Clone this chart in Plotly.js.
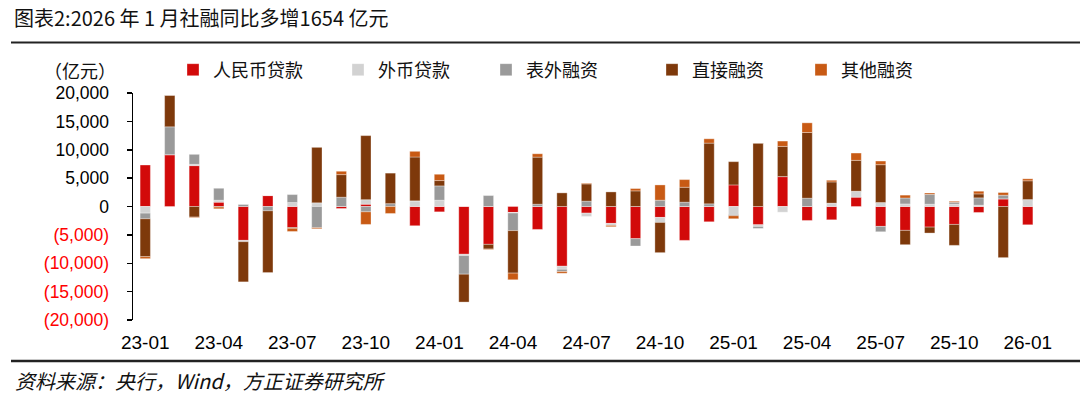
<!DOCTYPE html>
<html>
<head>
<meta charset="utf-8">
<script src="https://cdn.plot.ly/plotly-3.0.1.min.js"></script>
<style>
html,body{margin:0;padding:0;background:#ffffff;}
#chart{width:1080px;height:398px;}
</style>
</head>
<body>
<div id="chart"></div>
<script>
// ---- data (亿元, 同比多增) ----
const months = ["23-01","23-02","23-03","23-04","23-05","23-06","23-07","23-08","23-09","23-10","23-11","23-12",
                "24-01","24-02","24-03","24-04","24-05","24-06","24-07","24-08","24-09","24-10","24-11","24-12",
                "25-01","25-02","25-03","25-04","25-05","25-06","25-07","25-08","25-09","25-10","25-11","25-12",
                "26-01"];
const rmbLoans   = [7310, 9130, 7200, 760, -5970, 1930, -3700, 0, -350, 400, 0, -3390,
                    -940, -8420, -6670, -1050, -4040, -10530, -1170, -2980, -5670, -1930, -5970, -2690,
                    3800, -3220, 5270, -2460, -2340, 1640, -3510, -4210, -3630, -3160, -1050, 1350,
                    -3220];
const fxLoans    = [-1170, 0, 230, 350, -230, 0, 700, 650, 0, 800, 0, 1000,
                    1110, -230, 0, -100, 0, -530, -590, -350, 0, -880, 0, 0,
                    -1400, -290, -1000, 0, 590, 1050, 700, 450, 400, 400, 230, 0,
                    1050];
const offBalance = [-1000, 4910, 1760, 2100, 400, -760, 1400, -3740, 1640, -940, 500, 0,
                    2520, -3280, 1930, -3100, 400, -400, 940, 0, -1290, 1110, 760, 470,
                    -230, -350, 0, 1460, 0, 0, -940, 1050, 1750, 350, 1290, 640,
                    180];
const directFin  = [-6670, 5560, -1870, -100, -7080, -10880, -150, 9770, 3980, 11290, 5380, 7720,
                    940, -4910, -820, -7490, 8300, 2400, 3040, 2570, 2750, -5320, 2630, 10700,
                    4100, 11170, 5320, 11580, 3740, 5440, 6670, -2520, -1050, -3690, 700, -9010,
                    3300];
const otherFin   = [-350, 0, -100, -300, 0, 0, -550, -180, 590, -2220, -1230, 1000,
                    1110, 0, -100, -1170, 590, -300, 120, -230, 410, 2690, 1350, 760,
                    -530, 0, 940, 1700, 290, 1290, 640, 500, 230, 170, 470, 470,
                    350];
const seriesNames = ["人民币贷款","外币贷款","表外融资","直接融资","其他融资"];
const xTickLabels = ["23-01","23-04","23-07","23-10","24-01","24-04","24-07","24-10","25-01","25-04","25-07","25-10","26-01"];
const yTickVals   = [20000, 15000, 10000, 5000, 0, -5000, -10000, -15000, -20000];
const yTickLabels = ["20,000","15,000","10,000","5,000","0","(5,000)","(10,000)","(15,000)","(20,000)"];
const titleText   = "图表2:2026 年 1 月社融同比多增1654 亿元";
const unitText    = "（亿元）";
const sourceText  = "资料来源：央行，Wind，方正证券研究所";

// ---- styling ----
const colors = ["#D20A0A", "#D2D2D2", "#9A9A9A", "#7E390B", "#C85A14"];
const seriesData = [rmbLoans, fxLoans, offBalance, directFin, otherFin];
const W = 1080, H = 398;
const plotL = 133, plotR = 1040, plotT = 93, plotB = 320;
const px2paperX = p => (p - plotL) / (plotR - plotL);
const px2paperY = p => (plotB - p) / (plotB - plotT);
const legendTextStarts = [213, 378, 526, 692, 841];
const legendOffset = 40;

const traces = seriesData.map((vals, i) => ({
  type: 'bar',
  name: seriesNames[i],
  x: months,
  y: vals,
  marker: {color: colors[i], line: {color: 'rgba(255,255,255,0.55)', width: 0.6}},
  legend: i === 0 ? 'legend' : 'legend' + (i + 1),
  hoverinfo: 'x+y+name'
}));

const quarterBounds = months.map((m, i) => i).filter(i => i > 0 && i % 3 === 0).map(i => i - 0.5);

const legendBase = {
  orientation: 'h', xanchor: 'left', yanchor: 'middle',
  y: px2paperY(70), bgcolor: 'rgba(0,0,0,0)', borderwidth: 0,
  font: {family: '"Noto Sans CJK SC", sans-serif', size: 18, color: '#111'},
  itemwidth: 30, itemclick: false, itemdoubleclick: false
};

const layout = {
  width: W, height: H,
  margin: {l: plotL, r: W - plotR, t: plotT, b: H - plotB, pad: 0},
  paper_bgcolor: '#ffffff', plot_bgcolor: '#ffffff',
  barmode: 'relative', bargap: 0.58,
  font: {family: '"Liberation Sans", Arial, sans-serif', color: '#000'},
  showlegend: true,
  title: {
    text: titleText, xref: 'container', yref: 'container',
    x: 14 / W, xanchor: 'left', y: 1 - 19 / H, yanchor: 'middle',
    font: {family: '"Noto Sans CJK SC", sans-serif', size: 20, color: '#111'}
  },
  xaxis: {
    type: 'category', categoryorder: 'array', categoryarray: months,
    range: [-0.5, months.length - 0.5],
    tickmode: 'array', tickvals: xTickLabels, ticktext: xTickLabels,
    ticks: '', showline: false, showgrid: false, zeroline: false,
    tickfont: {size: 19, color: '#000'}, ticklabelstandoff: 9
  },
  xaxis2: {
    overlaying: 'x', anchor: 'free', position: 0.5,
    range: [-0.5, months.length - 0.5],
    tickmode: 'array', tickvals: quarterBounds,
    ticks: 'outside', ticklen: 6, tickwidth: 1.5, tickcolor: '#000',
    showticklabels: false, showline: true, linecolor: '#000', linewidth: 1.6,
    showgrid: false, zeroline: false
  },
  yaxis: {
    range: [-20000, 20000],
    tickmode: 'array', tickvals: yTickVals,
    ticktext: yTickLabels.map((t, i) => yTickVals[i] < 0 ? '<span style="color:#FF0000">' + t + '</span>' : t),
    ticks: 'outside', ticklen: 5, tickwidth: 1.5, tickcolor: '#000',
    showline: true, linecolor: '#000', linewidth: 1.5,
    showgrid: false, zeroline: false,
    tickfont: {size: 17.5, color: '#000'}, ticklabelstandoff: 14
  },
  annotations: [
    {text: unitText, xref: 'paper', yref: 'paper', x: px2paperX(80), y: px2paperY(70),
     xanchor: 'center', yanchor: 'middle', showarrow: false,
     font: {family: '"Noto Sans CJK SC", sans-serif', size: 18, color: '#111'}},
    {text: '<i>' + sourceText + '</i>', xref: 'paper', yref: 'paper', x: px2paperX(13), y: px2paperY(380),
     xanchor: 'left', yanchor: 'middle', showarrow: false,
     font: {family: '"Noto Sans CJK SC", sans-serif', size: 20, color: '#111'}}
  ],
  shapes: [
    {type: 'line', xref: 'paper', yref: 'paper', x0: px2paperX(11), x1: px2paperX(1080),
     y0: px2paperY(42.5), y1: px2paperY(42.5), line: {color: '#222', width: 2}},
    {type: 'line', xref: 'paper', yref: 'paper', x0: px2paperX(11), x1: px2paperX(1080),
     y0: px2paperY(361), y1: px2paperY(361), line: {color: '#222', width: 2.5}}
  ]
};

legendTextStarts.forEach((ts, i) => {
  const key = i === 0 ? 'legend' : 'legend' + (i + 1);
  layout[key] = Object.assign({}, legendBase, {x: px2paperX(ts - legendOffset)});
});

Plotly.newPlot('chart', traces, layout, {displayModeBar: false, staticPlot: true});
</script>
</body>
</html>
